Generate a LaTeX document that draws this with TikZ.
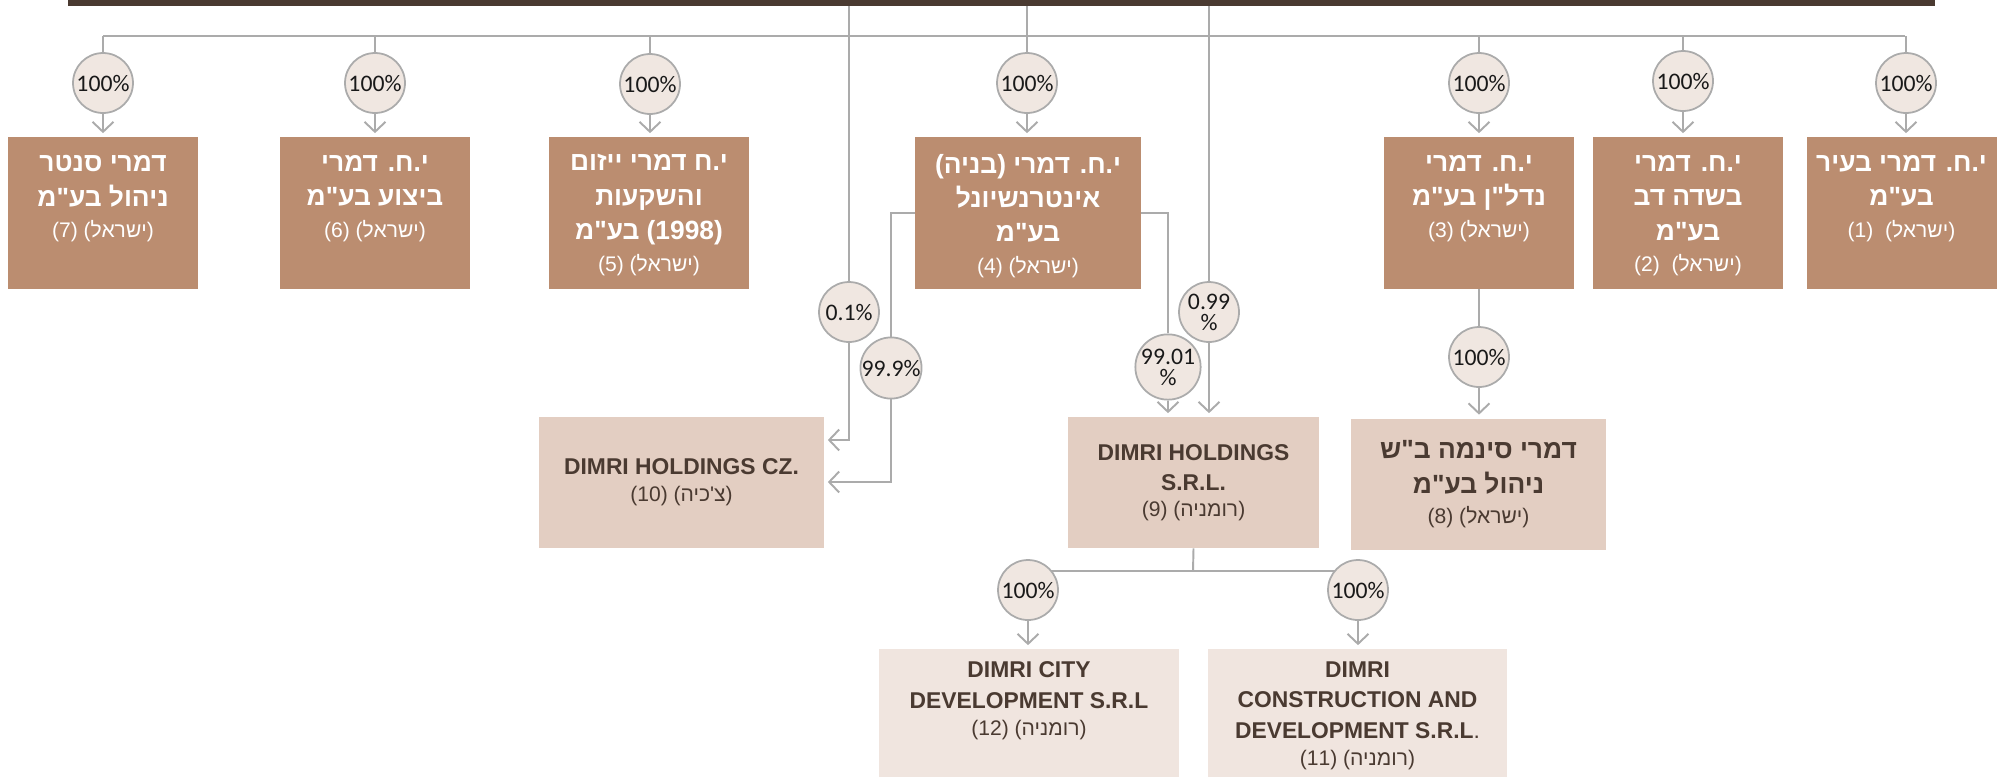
\documentclass[tikz,border=0pt]{standalone}
\usepackage{fontspec}
\setmainfont{Liberation Sans}
\newfontfamily\hebfont[Script=Hebrew,Ligatures=TeXOff]{Liberation Sans}
\newfontfamily\pctfont{Carlito}
\usetikzlibrary{arrows.meta, positioning, backgrounds}
\TeXXeTstate=1
\definecolor{DimriBar}{HTML}{4A3A31}
\definecolor{DimriTan}{HTML}{BB8D70}
\definecolor{DimriSand}{HTML}{E3CEC2}
\definecolor{DimriShell}{HTML}{F0E5DF}
\definecolor{DimriRing}{HTML}{F0E7E1}
\definecolor{DimriGrey}{HTML}{ABABAB}
\definecolor{DimriText}{HTML}{4A3A31}
\newcommand{\rtl}[1]{\beginR #1\endR}
\newcommand{\country}[1]{{\mdseries\fontsize{12}{14}\selectfont #1}}
\tikzset{
    % Company boxes - flat fill, sharp corners
    tanbox/.style={
        rectangle,
        fill=DimriTan,
        inner sep=0pt,
        minimum width=3.8cm,
        minimum height=3.04cm
    },
    tantext/.style={
        align=center,
        inner sep=0pt,
        text=white,
        font=\hebfont\bfseries\fontsize{15}{19.5}\selectfont
    },
    sandbox/.style={
        rectangle,
        fill=DimriSand,
        inner sep=0pt,
        minimum height=2.62cm,
        align=center,
        text=DimriText,
        font=\bfseries\fontsize{13}{17.5}\selectfont
    },
    shellbox/.style={
        rectangle,
        fill=DimriShell,
        inner sep=0pt,
        minimum width=6cm,
        minimum height=2.56cm
    },
    shelltext/.style={
        align=center,
        inner sep=0pt,
        text=DimriText,
        font=\bfseries\fontsize{13}{17.5}\selectfont
    },
    % Ownership circles
    share/.style={
        circle,
        draw=DimriGrey,
        line width=1pt,
        fill=DimriRing,
        minimum size=1.2cm,
        inner sep=0pt,
        align=center,
        text=black!90,
        font=\pctfont\fontsize{13.5}{12}\selectfont
    },
    % Connectors
    link/.style={
        draw=DimriGrey,
        line width=1.1pt
    },
    linkarrow/.style={
        link,
        -{Straight Barb[length=0.2cm,width=0.42cm]},
        shorten >=2pt
    }
}

\begin{document}
\begin{tikzpicture}[x=0.02cm, y=-0.02cm]
    \useasboundingbox (0,0) rectangle (1998,779);

    % Parent bar
    \node[rectangle, fill=DimriBar, inner sep=0pt, minimum width=37.34cm, minimum height=0.12cm] (bar) at (1001.5,3) {};

    % Israeli subsidiaries
    \node[tanbox] (b7) at (103,213) {};
    \node[tanbox] (b6) at (375,213) {};
    \node[tanbox, minimum width=4cm] (b5) at (649,213) {};
    \node[tanbox, minimum width=4.52cm] (b4) at (1028,213) {};
    \node[tanbox] (b3) at (1479,213) {};
    \node[tanbox] (b2) at (1688,213) {};
    \node[tanbox] (b1) at (1901.5,213) {};

    \node[tantext, below=0.37cm of b7.north] (t7) {\rtl{דמרי סנטר}\\ \rtl{ניהול בע"מ}\\[-1.5pt] \country{\rtl{(ישראל) (7)}}};
    \node[tantext, below=0.37cm of b6.north] (t6) {\rtl{י.ח. דמרי}\\ \rtl{ביצוע בע"מ}\\[-1.5pt] \country{\rtl{(ישראל) (6)}}};
    \node[tantext, below=0.35cm of b5.north] (t5) {\rtl{י.ח דמרי ייזום}\\ \rtl{והשקעות}\\ \rtl{(1998) בע"מ}\\[-1.5pt] \country{\rtl{(ישראל) (5)}}};
    \node[tantext, below=0.34cm of b4.north] (t4) {\rtl{י.ח. דמרי (בניה)}\\ \rtl{אינטרנשיונל}\\ \rtl{בע"מ}\\[-1.5pt] \country{\rtl{(ישראל) (4)}}};
    \node[tantext, below=0.37cm of b3.north] (t3) {\rtl{י.ח. דמרי}\\ \rtl{נדל"ן בע"מ}\\[-1.5pt] \country{\rtl{(ישראל) (3)}}};
    \node[tantext, below=0.37cm of b2.north] (t2) {\rtl{י.ח. דמרי}\\ \rtl{בשדה דב}\\ \rtl{בע"מ}\\[-1.5pt] \country{\rtl{(ישראל)\ \ (2)}}};
    \node[tantext, below=0.37cm of b1.north] (t1) {\rtl{י.ח. דמרי בעיר}\\ \rtl{בע"מ}\\[-1.5pt] \country{\rtl{(ישראל)\ \ (1)}}};

    % Second level
    \node[sandbox, minimum width=5.7cm] (b10) at (681.5,482) {DIMRI HOLDINGS CZ.\\[-2pt] \country{\hebfont\rtl{(צ'כיה) (10)}}};
    \node[sandbox, minimum width=5.02cm] (b9) at (1193.5,482.5) {DIMRI HOLDINGS\\ S.R.L.\\[-3pt] \country{\hebfont\rtl{(רומניה) (9)}}};
    \node[sandbox, minimum width=5.1cm, font=\hebfont\bfseries\fontsize{15}{20}\selectfont] (b8) at (1478.5,484) {\rtl{דמרי סינמה ב"ש}\\ \rtl{ניהול בע"מ}\\[-3pt] \country{\rtl{(ישראל) (8)}}};

    % Romanian subsidiaries
    \node[shellbox] (b12) at (1029,713) {};
    \node[shellbox] (b11) at (1357.5,713) {};
    \node[shelltext, below=0.25cm of b12.north] (t12) {DIMRI CITY\\ DEVELOPMENT S.R.L\\[-2pt] \country{\hebfont\rtl{(רומניה) (12)}}};
    \node[shelltext, below=0.25cm of b11.north] (t11) {DIMRI\\ CONSTRUCTION AND\\ DEVELOPMENT S.R.L{\mdseries .}\\[-2pt] \country{\hebfont\rtl{(רומניה) (11)}}};

    % Holding percentages
    \node[share] (p7) at (103,83) {100\%};
    \node[share] (p6) at (375,83) {100\%};
    \node[share] (p5) at (650,84) {100\%};
    \node[share] (p4) at (1027,83) {100\%};
    \node[share] (p3) at (1479,83) {100\%};
    \node[share] (p2) at (1683,81) {100\%};
    \node[share] (p1) at (1906,83) {100\%};
    \node[share] (p01) at (849,312) {0.1\%};
    \node[share] (p999) at (891,368) {99.9\%};
    \node[share] (p9901) at (1168,367) {99.01\\\%};
    \node[share] (p099) at (1209,312) {0.99\\\%};
    \node[share] (p8) at (1479,357) {100\%};
    \node[share] (p12) at (1028,590) {100\%};
    \node[share] (p11) at (1358,590) {100\%};

    \begin{scope}[on background layer]
        \coordinate (h7) at (103,36);
        \coordinate (h1) at (1905,36);
        \coordinate (j9) at (1193,571);
        \draw[link] (h7) -- (h1);
        \foreach \n in {7,6,5,3,2,1}
            \draw[link] (p\n |- h1) -- (p\n);
        \foreach \n in {4,01,099}
            \draw[link] (p\n |- bar.south) -- (p\n);
        \foreach \n in {7,6,5,4,3,2,1}
            \draw[linkarrow] (p\n) -- (p\n |- b\n.north);

        \draw[link] (b4.west) -| (p999);
        \draw[link] (b4.east) -| (p9901);
        \draw[linkarrow] (p01) |- ([yshift=0.84cm]b10.east);
        \draw[linkarrow] (p999) |- (b10.east);
        \draw[linkarrow] (p9901) -- (p9901 |- b9.north);
        \draw[linkarrow] (p099) -- (p099 |- b9.north);

        \draw[link] (b3) -- (p8);
        \draw[linkarrow] (p8) -- (p8 |- b8.north);

        \draw[link] (b9.south) -- (j9);
        \draw[link] (p12 |- j9) -- (p11 |- j9);
        \draw[linkarrow] (p12) -- (p12 |- b12.north);
        \draw[linkarrow] (p11) -- (p11 |- b11.north);
    \end{scope}
\end{tikzpicture}
\end{document}
